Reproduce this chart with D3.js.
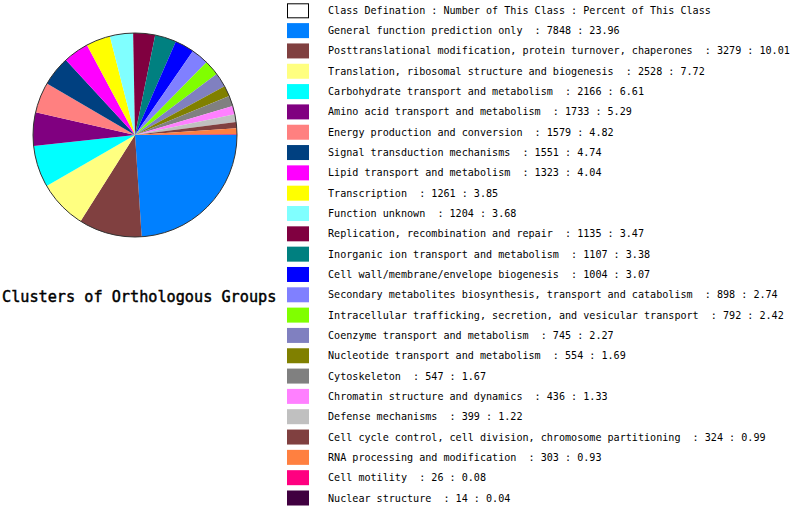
<!DOCTYPE html>
<html><head><meta charset="utf-8">
<script src="https://cdn.jsdelivr.net/npm/d3@7"></script>
<style>body{margin:0;background:#fff}svg{display:block}text{white-space:pre}</style>
</head><body><svg id="c" width="794" height="510"></svg>
<script>
const title = "Clusters of Orthologous Groups";
const header = "Class Defination : Number of This Class : Percent of This Class";
const categories = [
 "General function prediction only",
 "Posttranslational modification, protein turnover, chaperones",
 "Translation, ribosomal structure and biogenesis",
 "Carbohydrate transport and metabolism",
 "Amino acid transport and metabolism",
 "Energy production and conversion",
 "Signal transduction mechanisms",
 "Lipid transport and metabolism",
 "Transcription",
 "Function unknown",
 "Replication, recombination and repair",
 "Inorganic ion transport and metabolism",
 "Cell wall/membrane/envelope biogenesis",
 "Secondary metabolites biosynthesis, transport and catabolism",
 "Intracellular trafficking, secretion, and vesicular transport",
 "Coenzyme transport and metabolism",
 "Nucleotide transport and metabolism",
 "Cytoskeleton",
 "Chromatin structure and dynamics",
 "Defense mechanisms",
 "Cell cycle control, cell division, chromosome partitioning",
 "RNA processing and modification",
 "Cell motility",
 "Nuclear structure"
];
const counts = [7848,3279,2528,2166,1733,1579,1551,1323,1261,1204,1135,1107,1004,898,792,745,554,547,436,399,324,303,26,14];
const percents = ["23.96","10.01","7.72","6.61","5.29","4.82","4.74","4.04","3.85","3.68","3.47","3.38","3.07","2.74","2.42","2.27","1.69","1.67","1.33","1.22","0.99","0.93","0.08","0.04"];
const colors = ["#0080FF","#804040","#FFFF80","#00FFFF","#800080","#FF8080","#004080","#FF00FF","#FFFF00","#80FFFF","#800040","#008080","#0000FF","#8080FF","#80FF00","#8080C0","#808000","#808080","#FF80FF","#C0C0C0","#804040","#FF8040","#FF0080","#400040"];

const svg = d3.select("#c");
const data = categories.map((c,i)=>({name:c,count:counts[i],pct:percents[i],color:colors[i]}));

// Pie
const cx = 135, cy = 135, r = 102;
const pie = d3.pie().sort(null).value(d=>d.count).startAngle(Math.PI/2).endAngle(Math.PI/2 + 2*Math.PI);
const arc = d3.arc().innerRadius(0).outerRadius(r);
const g = svg.append("g").attr("transform",`translate(${cx},${cy})`);
g.selectAll("path").data(pie(data)).join("path")
 .attr("d",arc).attr("fill",d=>d.data.color);
g.append("circle").attr("r",r).attr("fill","none").attr("stroke","#333").attr("stroke-width",1);

svg.append("text").attr("x",2).attr("y",301.5)
 .attr("font-family","DejaVu Sans Mono").attr("font-size",15.2)
 .attr("fill","#000").attr("stroke","#000").attr("stroke-width",0.45).text(title);

// Legend
const rows = [{header:true}].concat(data);
const y = d3.scalePoint().domain(d3.range(rows.length)).range([10.3, 498]);
const lg = svg.append("g");
const row = lg.selectAll("g").data(rows).join("g").attr("transform",(d,i)=>`translate(0,${y(i)})`);
row.append("rect").attr("x",d=>d.header?287.5:287).attr("y",d=>d.header?-6.5:-7.5)
 .attr("width",d=>d.header?21:22).attr("height",d=>d.header?14:15)
 .attr("fill",d=>d.header?"#fff":d.color)
 .attr("stroke",d=>d.header?"#000":"none").attr("stroke-width",1);
row.append("text").attr("x",328).attr("y",0).attr("dy","0.35em")
 .attr("font-family","DejaVu Sans Mono").attr("font-size",10.1).attr("fill","#000")
 .text(d=>d.header?header:`${d.name}  : ${d.count} : ${d.pct}`);
</script></body></html>
